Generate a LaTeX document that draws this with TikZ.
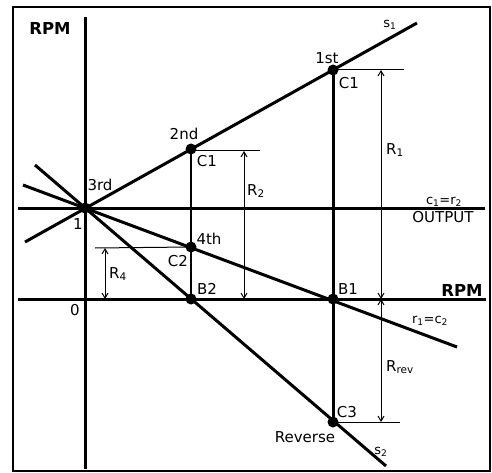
\documentclass[tikz,border=0pt]{standalone}
\usepackage{fontspec}
\setmainfont{DejaVu Sans}
\usetikzlibrary{arrows.meta}
\newcommand\lsub[1]{\textsubscript{#1}}

\begin{document}
\begin{tikzpicture}[x=1pt,y=-1pt,
  heavy/.style={line width=3pt},
  light/.style={line width=1pt},
  dimarrow/.style={line width=1pt,{Straight Barb[length=5pt,width=6pt]}-{Straight Barb[length=5pt,width=6pt]}},
  lbl/.style={font=\fontsize{15}{17}\selectfont,inner sep=0pt},
  sml/.style={font=\fontsize{13}{15}\selectfont,inner sep=0pt},
  big/.style={font=\fontsize{16.5}{18}\selectfont\bfseries,inner sep=0pt}]
\useasboundingbox (0,0) rectangle (492,473);
\draw[line width=1.5pt] (13,7) rectangle (490,471);
% Points on the speed lines
\coordinate (pivot)  at (85,208);
\coordinate (second) at (191,149);
\coordinate (first)  at (333,70);
\coordinate (fourth) at (191,247);
\coordinate (btwo)   at (191,299);
\coordinate (bone)   at (333,299);
\coordinate (cthree) at (333,422);
% Line ends
\coordinate (sonebeg) at (25,242);
\coordinate (soneend) at (417,23);
\coordinate (rbeg)    at (23,185);
\coordinate (rend)    at (457,347);
\coordinate (stwobeg) at (35,165);
\coordinate (stwoend) at (386,466);
% Axes
\draw[heavy] (85,17) -- (85,469);                % RPM axis
\draw[heavy] (18,208) -- (485,208);              % output line
\draw[heavy] (18,299) -- (486,299);              % zero line
% Speed lines
\draw[heavy] (sonebeg) -- (soneend);             % s1
\draw[heavy] (rbeg) -- (rend);                   % r1 = c2
\draw[heavy] (stwobeg) -- (stwoend);             % s2
% Verticals through the gears
\draw[line width=1.4pt] (second) -- (btwo);
\draw[heavy] (first) -- (cthree);
% Dimension: R1
\coordinate (ronetop) at (381,70);
\coordinate (ronebot) at (381,299);
\draw[light] (first) -- (404,70);
\draw[dimarrow] (ronebot) -- (ronetop);
% Dimension: Rrev
\coordinate (rrevbot) at (381,422);
\draw[light] (cthree) -- (400,422);
\draw[dimarrow] (ronebot) -- (rrevbot);
% Dimension: R2
\coordinate (rtwotop) at (244,151);
\coordinate (rtwobot) at (244,299);
\draw[light] (191,151) -- (260,151);
\draw[dimarrow] (rtwobot) -- (rtwotop);
% Dimension: R4
\coordinate (rfourtop) at (105,248);
\coordinate (rfourbot) at (105,299);
\draw[light] (95,248) -- (fourth);
\draw[dimarrow] (rfourtop) -- (rfourbot);
% Dots
\foreach \p in {pivot,second,first,fourth,btwo,bone,cthree}
  \fill (\p) circle (5.5);
% Labels
\node[big] (rpmtop) at (50,28) {RPM};
\node[big] (rpmright) at (462,290) {RPM};
\node[lbl] (third) at (100,185) {3rd};
\node[lbl] (one) at (78,224) {1};
\node[lbl] (zero) at (75,310) {0};
\node[lbl] (secondlbl) at (184,134) {2nd};
\node[lbl] (conea) at (207,161) {C1};
\node[lbl] (firstlbl) at (327,58) {1st};
\node[lbl] (coneb) at (349,83) {C1};
\node[lbl] (fourthlbl) at (209,239) {4th};
\node[lbl] (ctwo) at (178,261) {C2};
\node[lbl] (btwolbl) at (207,289) {B2};
\node[lbl] (bonelbl) at (348,289) {B1};
\node[lbl] (cthreelbl) at (347,412) {C3};
\node[lbl] (reverse) at (305,437) {Reverse};
\node[lbl] (output) at (443,217) {OUTPUT};
\node[lbl] (rone) at (395,150) {R\lsub{1}};
\node[lbl] (rtwo) at (256,191) {R\lsub{2}};
\node[lbl] (rfour) at (118,274) {R\lsub{4}};
\node[lbl] (rrev) at (400,367) {R\lsub{rev}};
\node[sml] (sone) at (390,25) {s\lsub{1}};
\node[sml] (stwo) at (381,452) {s\lsub{2}};
\node[sml] (coner) at (444,202) {c\lsub{1}=r\lsub{2}};
\node[sml] (ronec) at (430,321) {r\lsub{1}=c\lsub{2}};
\end{tikzpicture}
\end{document}
